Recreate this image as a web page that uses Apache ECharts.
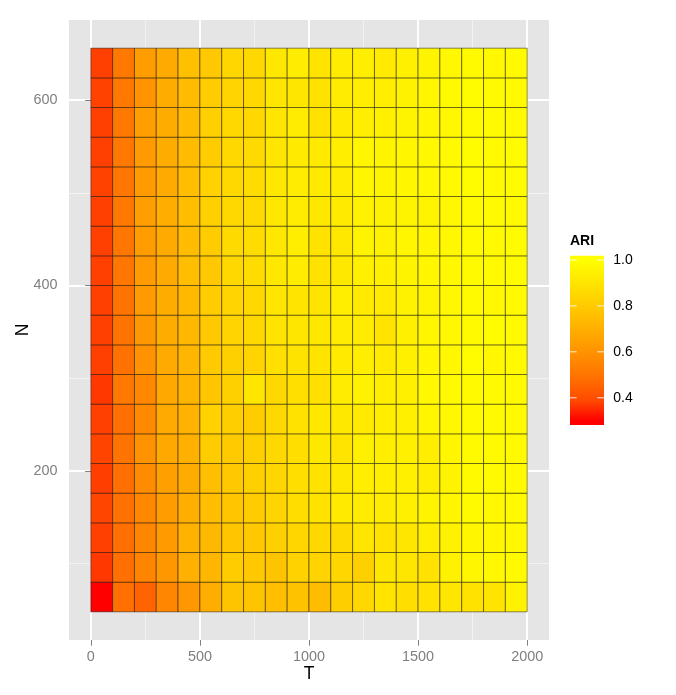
<!DOCTYPE html>
<html><head><meta charset="utf-8">
<script src="https://cdn.jsdelivr.net/npm/echarts@6/dist/echarts.min.js"></script>
<style>html,body{margin:0;padding:0;background:#fff}#c{width:676px;height:695px}</style>
</head><body><div id="c"></div>
<script>
// ---- data ----
const T = [50,150,250,350,450,550,650,750,850,950,1050,1150,1250,1350,1450,1550,1650,1750,1850,1950];
const N = [64,96,128,160,192,224,256,288,320,352,384,416,448,480,512,544,576,608,640];

const ari064 = [0.300,0.488,0.455,0.556,0.619,0.696,0.776,0.776,0.753,0.768,0.745,0.814,0.852,0.897,0.875,0.890,0.905,0.890,0.897,0.951];
const ari096 = [0.367,0.488,0.550,0.619,0.703,0.724,0.806,0.791,0.776,0.829,0.836,0.844,0.821,0.905,0.905,0.890,0.951,0.966,0.973,0.981];
const ari128 = [0.377,0.488,0.556,0.626,0.710,0.731,0.783,0.791,0.821,0.844,0.852,0.859,0.905,0.890,0.905,0.935,0.951,0.966,0.966,0.973];
const ari160 = [0.383,0.494,0.563,0.636,0.699,0.753,0.783,0.806,0.836,0.870,0.890,0.920,0.928,0.928,0.943,0.958,0.966,0.981,0.973,0.981];
const ari192 = [0.374,0.488,0.577,0.647,0.689,0.753,0.791,0.821,0.844,0.875,0.890,0.913,0.935,0.935,0.943,0.935,0.958,0.981,0.981,0.981];
const ari224 = [0.381,0.500,0.598,0.675,0.703,0.806,0.798,0.821,0.852,0.875,0.913,0.897,0.943,0.935,0.943,0.935,0.966,0.981,0.981,0.981];
const ari256 = [0.377,0.488,0.570,0.682,0.710,0.829,0.814,0.806,0.852,0.890,0.913,0.913,0.920,0.935,0.943,0.966,0.973,0.981,0.981,0.981];
const ari288 = [0.367,0.513,0.563,0.675,0.717,0.783,0.821,0.905,0.852,0.878,0.882,0.928,0.951,0.935,0.943,0.973,0.981,0.981,0.981,0.981];
const ari320 = [0.377,0.494,0.598,0.682,0.724,0.798,0.821,0.836,0.882,0.893,0.897,0.920,0.935,0.920,0.943,0.966,0.973,0.989,0.973,0.981];
const ari352 = [0.377,0.500,0.619,0.689,0.731,0.791,0.836,0.852,0.897,0.905,0.913,0.928,0.928,0.897,0.943,0.966,0.973,0.981,0.989,0.981];
const ari384 = [0.377,0.500,0.626,0.689,0.738,0.806,0.836,0.852,0.905,0.897,0.897,0.935,0.920,0.920,0.951,0.958,0.973,0.981,0.973,0.981];
const ari416 = [0.377,0.506,0.626,0.682,0.753,0.791,0.852,0.867,0.913,0.928,0.890,0.913,0.943,0.943,0.958,0.966,0.973,0.981,0.981,0.989];
const ari448 = [0.377,0.506,0.633,0.682,0.745,0.806,0.859,0.867,0.913,0.935,0.890,0.913,0.958,0.951,0.966,0.966,0.973,0.981,0.981,0.989];
const ari480 = [0.377,0.513,0.640,0.696,0.753,0.821,0.852,0.859,0.913,0.928,0.913,0.920,0.951,0.951,0.958,0.958,0.973,0.981,0.981,0.981];
const ari512 = [0.379,0.506,0.626,0.682,0.753,0.829,0.852,0.867,0.913,0.928,0.920,0.928,0.966,0.958,0.966,0.973,0.981,0.989,0.981,0.989];
const ari544 = [0.377,0.513,0.626,0.689,0.745,0.806,0.852,0.859,0.905,0.920,0.920,0.935,0.966,0.958,0.966,0.973,0.981,0.989,0.981,0.989];
const ari576 = [0.377,0.513,0.640,0.689,0.745,0.821,0.852,0.852,0.905,0.928,0.890,0.920,0.935,0.943,0.958,0.966,0.973,0.981,0.981,0.981];
const ari608 = [0.379,0.513,0.605,0.689,0.745,0.806,0.836,0.852,0.905,0.905,0.890,0.928,0.935,0.935,0.951,0.966,0.981,0.989,0.981,0.981];
const ari640 = [0.377,0.513,0.633,0.682,0.760,0.791,0.844,0.852,0.913,0.928,0.897,0.928,0.935,0.920,0.943,0.958,0.973,0.981,0.973,0.981];
const ARI_ROWS = [ari064,ari096,ari128,ari160,ari192,ari224,ari256,ari288,ari320,ari352,ari384,ari416,ari448,ari480,ari512,ari544,ari576,ari608,ari640];

const xTicks = [0,500,1000,1500,2000];
const xMinor = [250,750,1250,1750];
const yTicks = [200,400,600];
const yMinor = [100,300,500];
const legendTicks = [0.4,0.6,0.8,1.0];
const ARI_MIN = 0.30, ARI_MAX = 1.0;
// red -> yellow, sampled along a Lab-space ramp
const palette = ['#FF0000','#FF4900','#FF6C00','#FF8800','#FFA100','#FFBA00','#FFD100','#FFE800','#FFFF00'];

// ---- build ----
const FONT = "'Liberation Sans', Arial, Helvetica, sans-serif";
const data = [];
N.forEach((n, i) => T.forEach((t, j) => data.push([t, n, ARI_ROWS[i][j]])));
const halfW = (T[1] - T[0]) / 2, halfH = (N[1] - N[0]) / 2;
const x0 = T[0] - halfW, x1 = T[T.length - 1] + halfW, xPad = (x1 - x0) * 0.05;
const y0 = N[0] - halfH, y1 = N[N.length - 1] + halfH, yPad = (y1 - y0) * 0.05;
const nbin = 20, lpad = (ARI_MAX - ARI_MIN) * 0.5 / (nbin - 1);
const legMin = ARI_MIN - lpad, legMax = ARI_MAX + lpad;

const chart = echarts.init(document.getElementById('c'));
const gridLineMajor = { color: '#FFFFFF', width: 1.9 };
const gridLineMinor = { color: '#F2F2F2', width: 0.95 };
const tickStyle = { color: '#7F7F7F', width: 1 };
const LEG_TICK_LEN = 6.7;

chart.setOption({
  animation: false,
  backgroundColor: '#FFFFFF',
  title: { text: 'ARI', left: 570, top: 234, padding: 0,
    textStyle: { fontSize: 14, fontWeight: 'bold', color: '#000', fontFamily: FONT } },
  grid: [
    { left: 69, top: 20, width: 480, height: 620, show: true, backgroundColor: '#E5E5E5', borderWidth: 0,
      containLabel: false, outerBoundsMode: 'none' },
    { left: 570, top: 255.7, width: 34, height: 169.3, show: false, containLabel: false, outerBoundsMode: 'none' }
  ],
  xAxis: [
    { gridIndex: 0, type: 'value', min: x0 - xPad, max: x1 + xPad, z: 1,
      axisLine: { show: false },
      axisTick: { show: true, length: 5.7, lineStyle: tickStyle, customValues: xTicks },
      axisLabel: { customValues: xTicks, formatter: v => String(v), color: '#7F7F7F', fontSize: 14.4, margin: 10, fontFamily: FONT },
      splitLine: { show: true, lineStyle: gridLineMajor },
      name: 'T', nameLocation: 'middle', nameGap: 25.5, nameMoveOverlap: false,
      nameTextStyle: { color: '#000', fontSize: 17.5, fontFamily: FONT } },
    { gridIndex: 0, type: 'value', min: x0 - xPad, max: x1 + xPad, z: 0,
      axisLine: { show: false }, axisTick: { show: false, customValues: xMinor },
      axisLabel: { show: false }, splitLine: { show: true, lineStyle: gridLineMinor } },
    { gridIndex: 1, type: 'value', min: 0, max: 1, show: false }
  ],
  yAxis: [
    { gridIndex: 0, type: 'value', min: y0 - yPad, max: y1 + yPad, z: 1,
      axisLine: { show: false },
      axisTick: { show: true, length: 5.7, lineStyle: tickStyle, customValues: yTicks },
      axisLabel: { customValues: yTicks, formatter: v => String(v), color: '#7F7F7F', fontSize: 14.4, margin: 11.5, fontFamily: FONT },
      splitLine: { show: true, lineStyle: gridLineMajor },
      name: 'N', nameLocation: 'middle', nameGap: 37, nameMoveOverlap: false,
      nameTextStyle: { color: '#000', fontSize: 17.5, fontFamily: FONT } },
    { gridIndex: 0, type: 'value', min: y0 - yPad, max: y1 + yPad, z: 0,
      axisLine: { show: false }, axisTick: { show: false, customValues: yMinor },
      axisLabel: { show: false }, splitLine: { show: true, lineStyle: gridLineMinor } },
    { gridIndex: 1, type: 'value', min: legMin, max: legMax, position: 'right',
      axisLine: { show: false },
      axisTick: { show: false, customValues: legendTicks },
      axisLabel: { customValues: legendTicks, formatter: v => v.toFixed(1), color: '#000',
        fontSize: 14, margin: 9.3, fontFamily: FONT },
      splitLine: { show: false } }
  ],
  visualMap: {
    type: 'continuous', show: false, min: ARI_MIN, max: ARI_MAX, dimension: 2, seriesIndex: 0,
    inRange: { color: palette }
  },
  series: [
    { type: 'custom', xAxisIndex: 0, yAxisIndex: 0, data: data, encode: { x: 0, y: 1 }, z: 2,
      renderItem: (params, api) => {
        const x = api.value(0), y = api.value(1);
        const p1 = api.coord([x - halfW, y + halfH]);
        const p2 = api.coord([x + halfW, y - halfH]);
        return { type: 'rect',
          shape: { x: p1[0], y: p1[1], width: p2[0] - p1[0], height: p2[1] - p1[1] },
          style: { fill: api.visual('color'), stroke: '#000', lineWidth: 0.45 } };
      } },
    { type: 'custom', xAxisIndex: 2, yAxisIndex: 2, data: [[0, legMin]], silent: true, z: 2,
      renderItem: (params, api) => {
        const p1 = api.coord([0, legMax]);
        const p2 = api.coord([1, legMin]);
        const stops = palette.map((c, i) => {
          const v = ARI_MIN + i / (palette.length - 1) * (ARI_MAX - ARI_MIN);
          return { offset: (legMax - v) / (legMax - legMin), color: c };
        }).reverse();
        const children = [{ type: 'rect',
          shape: { x: p1[0], y: p1[1], width: p2[0] - p1[0], height: p2[1] - p1[1] },
          style: { fill: new echarts.graphic.LinearGradient(0, 0, 0, 1, stops) } }];
        legendTicks.forEach(v => {
          const y = api.coord([0, v])[1];
          const tick = { stroke: 'rgba(255,255,255,0.85)', lineWidth: 1 };
          children.push({ type: 'line', shape: { x1: p1[0], y1: y, x2: p1[0] + LEG_TICK_LEN, y2: y }, style: tick });
          children.push({ type: 'line', shape: { x1: p2[0] - LEG_TICK_LEN, y1: y, x2: p2[0], y2: y }, style: tick });
        });
        return { type: 'group', children: children };
      } }
  ]
});
</script>
</body></html>
